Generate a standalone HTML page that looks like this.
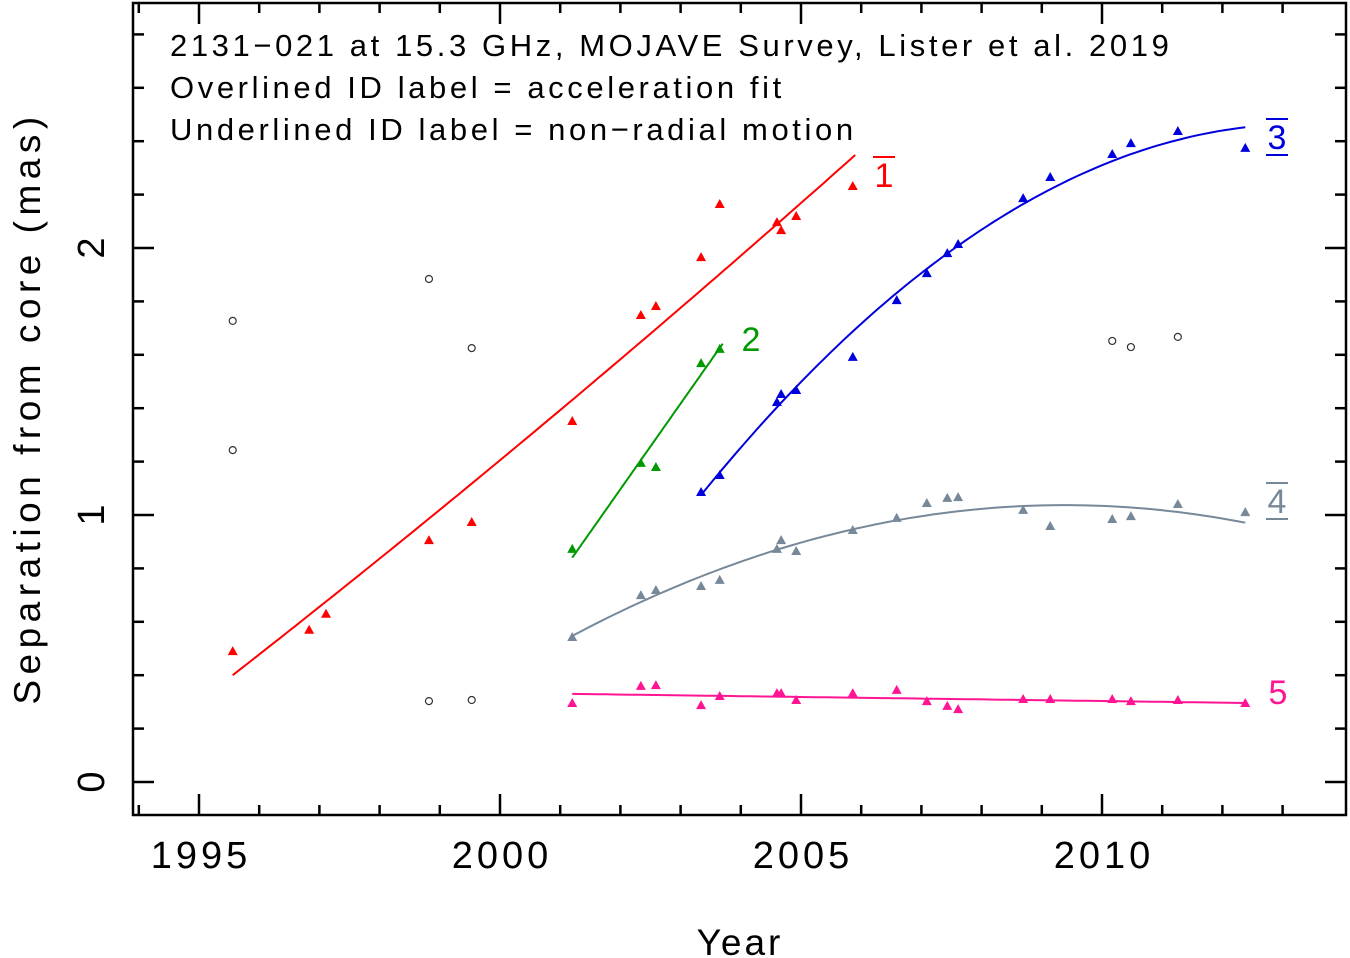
<!DOCTYPE html>
<html><head><meta charset="utf-8"><style>
body{margin:0;background:#fff;}
svg{display:block;font-family:"Liberation Sans","DejaVu Sans",sans-serif;}
</style></head><body>
<svg id="chart" width="1350" height="958" viewBox="0 0 1350 958" xmlns="http://www.w3.org/2000/svg">
<rect x="0" y="0" width="1350" height="958" fill="#fff"/>
<g id="marks"></g>
<rect x="133" y="3" width="1213" height="812" fill="none" stroke="#000" stroke-width="2.5"/>
<g id="ticks"></g>
<text x="170" y="56" font-size="31" letter-spacing="3.6">2131−021 at 15.3 GHz, MOJAVE Survey, Lister et al. 2019</text>
<text x="170" y="98" font-size="31" letter-spacing="3.6">Overlined ID label = acceleration fit</text>
<text x="170" y="140" font-size="31" letter-spacing="3.6">Underlined ID label = non−radial motion</text>
<text x="740" y="955" font-size="37" text-anchor="middle" letter-spacing="3">Year</text>
<text transform="translate(40,408) rotate(-90)" font-size="37" text-anchor="middle" letter-spacing="5.5">Separation from core (mas)</text>
</svg>
<script>
const xTicks=[1995,2000,2005,2010];
const yTicks=[0,1,2];
const redYears=[1995.56,1996.83,1997.11,1998.82,1999.53,2001.2,2002.34,2002.59,2003.34,2003.65,2004.6,2004.67,2004.92,2005.86];
const redSep=[0.49,0.57,0.63,0.906,0.974,1.352,1.749,1.783,1.966,2.165,2.097,2.067,2.12,2.232];
const greenYears=[2001.2,2002.34,2002.59,2003.34,2003.65];
const greenSep=[0.873,1.195,1.18,1.569,1.622];
const blueYears=[2003.34,2003.65,2004.6,2004.67,2004.92,2005.86,2006.59,2007.09,2007.43,2007.61,2008.69,2009.14,2010.17,2010.48,2011.26,2012.38];
const blueSep=[1.086,1.15,1.423,1.453,1.468,1.592,1.805,1.906,1.981,2.015,2.187,2.266,2.352,2.393,2.438,2.375];
const grayYears=[2001.2,2002.34,2002.59,2003.34,2003.65,2004.6,2004.67,2004.92,2005.86,2006.59,2007.09,2007.43,2007.61,2008.69,2009.14,2010.17,2010.48,2011.26,2012.38];
const graySep=[0.543,0.70,0.719,0.734,0.757,0.873,0.906,0.865,0.944,0.989,1.045,1.064,1.067,1.019,0.959,0.985,0.996,1.041,1.011];
const pinkYears=[2001.2,2002.34,2002.59,2003.34,2003.65,2004.6,2004.67,2004.92,2005.86,2006.59,2007.09,2007.43,2007.61,2008.69,2009.14,2010.17,2010.48,2011.26,2012.38];
const pinkSep=[0.296,0.36,0.363,0.288,0.322,0.333,0.333,0.307,0.333,0.345,0.303,0.285,0.273,0.311,0.311,0.311,0.303,0.307,0.296];
const openYears=[1995.56,1995.56,1998.82,1999.53,1998.82,1999.53,2010.17,2010.48,2011.26];
const openSep=[1.727,1.243,1.884,1.625,0.303,0.307,1.652,1.629,1.667];
// fits: [start year, end year, a, b, c, t0]
const redFit=[1995.56,2005.9,0.40,0.176,0.0012,1995.56];
const greenFit=[2001.2,2003.7,0.84,0.3207,0,2001.2];
const blueFit=[2003.34,2012.38,1.075,0.278,-0.0139,2003.34];
const grayFit=[2001.2,2012.38,1.037,0,-0.00732,2009.38];
const pinkFit=[2001.2,2012.38,0.330,-0.00304,0,2001.2];

const X=y=>199+(y-1995)*60.2;
const Y=v=>782-v*267;
const NS='http://www.w3.org/2000/svg';
const marks=document.getElementById('marks');
const ticks=document.getElementById('ticks');
function mk(tag,attrs,parent){const e=document.createElementNS(NS,tag);for(const k in attrs)e.setAttribute(k,attrs[k]);parent.appendChild(e);return e;}

for(let yr=1994;yr<=2013;yr++){
  const major=yr%5===0, L=major?21:10, x=X(yr);
  const t1=mk('line',{x1:x,y1:815,x2:x,y2:815-L,stroke:'#000','stroke-width':2.5},ticks);
  
  
  const t2=mk('line',{x1:x,y1:3,x2:x,y2:3+L,stroke:'#000','stroke-width':2.5},ticks);
  
  
}
for(let i=0;i<=14;i++){
  const v=i*0.2, major=(i%5===0), L=major?21:11, y=Y(v);
  if(y<3)continue;
  const t1=mk('line',{x1:133,y1:y,x2:133+L,y2:y,stroke:'#000','stroke-width':2.5},ticks);
  
  
  const t2=mk('line',{x1:1346,y1:y,x2:1346-L,y2:y,stroke:'#000','stroke-width':2.5},ticks);
  
  
}
xTicks.forEach(t=>{
  const e=mk('text',{x:X(t)+2,y:868,'font-size':38,'text-anchor':'middle','letter-spacing':4},ticks);
  e.textContent=t;
  
  
});
yTicks.forEach(t=>{
  const e=mk('text',{transform:`translate(104,${Y(t)}) rotate(-90)`,'font-size':38,'text-anchor':'middle'},ticks);
  e.textContent=t;
  
  
});

function fit(f,color,name){
  let d='';
  for(let i=0;i<=80;i++){const yr=f[0]+(f[1]-f[0])*i/80,t=yr-f[5];const v=f[2]+f[3]*t+f[4]*t*t;d+=(i?'L':'M')+X(yr).toFixed(1)+','+Y(v).toFixed(1);}
  const p=mk('path',{d:d,fill:'none',stroke:color,'stroke-width':2},marks);
  
  
}
function tris(xs,vs,color,name){
  xs.forEach((yr,i)=>{const x=X(yr),y=Y(vs[i]);
    const p=mk('polygon',{points:`${x-5},${y+4} ${x+5},${y+4} ${x},${y-5}`,fill:color},marks);
    
    
  });
}
fit(redFit,'#ff0000','fit-line-1');
fit(greenFit,'#009900','fit-line-2');
fit(blueFit,'#0000dd','fit-line-3');
fit(grayFit,'#778899','fit-line-4');
fit(pinkFit,'#ff1493','fit-line-5');
tris(redYears,redSep,'#ff0000','point-1');
tris(greenYears,greenSep,'#009900','point-2');
tris(blueYears,blueSep,'#0000dd','point-3');
tris(grayYears,graySep,'#778899','point-4');
tris(pinkYears,pinkSep,'#ff1493','point-5');
openYears.forEach((yr,i)=>{
  const c=mk('circle',{cx:X(yr),cy:Y(openSep[i]),r:3.5,fill:'none',stroke:'#333','stroke-width':1.2},marks);
  
  
});
function label(txt,x,y,color,over,under,name){
  const t=mk('text',{x:x,y:y,'font-size':34,fill:color,'text-anchor':'middle'},marks);
  t.textContent=txt;
  
  
  if(over){const l=mk('line',{x1:x-11,y1:y-30,x2:x+11,y2:y-30,stroke:color,'stroke-width':2},marks);}
  if(under){const l=mk('line',{x1:x-11,y1:y+6,x2:x+11,y2:y+6,stroke:color,'stroke-width':2},marks);}
}
label('1',884,187,'#ff0000',true,false,'label-1');
label('2',751,351,'#009900',false,false,'label-2');
label('3',1277,149,'#0000dd',true,true,'label-3');
label('4',1277,513,'#778899',true,true,'label-4');
label('5',1278,704,'#ff1493',false,false,'label-5');
</script>
</body></html>
